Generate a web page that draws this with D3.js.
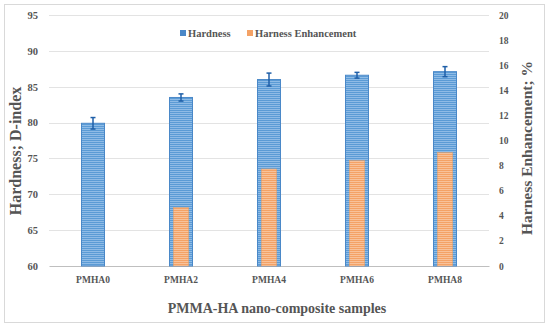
<!DOCTYPE html>
<html>
<head>
<meta charset="utf-8">
<script src="https://cdn.jsdelivr.net/npm/d3@7"></script>
<style>
  body { margin: 0; background: #fff; }
  text { font-family: "Liberation Serif", "Times New Roman", serif; font-weight: bold; fill: #555555; }
</style>
</head>
<body>
<div id="chart"></div>
<script>
// Data
const samples = ["PMHA0", "PMHA2", "PMHA4", "PMHA6", "PMHA8"];
const hardness = [79.9, 83.5, 86.0, 86.6, 87.1];
const hardnessErr = [0.8, 0.5, 0.9, 0.4, 0.7];
const enhancement = [0, 4.65, 7.73, 8.39, 9.03];
const leftTicks = [60, 65, 70, 75, 80, 85, 90, 95];
const rightTicks = [0, 2, 4, 6, 8, 10, 12, 14, 16, 18, 20];

const W = 550, H = 329;
const margin = {top: 15, right: 61, bottom: 63, left: 49};
const width = W - margin.left - margin.right,
      height = H - margin.top - margin.bottom;

const svg = d3.select("#chart").append("svg")
    .attr("width", W)
    .attr("height", H);

// Chart frame
svg.append("rect")
    .attr("x", 4.5).attr("y", 4.5)
    .attr("width", 540).attr("height", 318)
    .attr("fill", "#fff")
    .attr("stroke", "#d9d9d9");

// Stripe patterns for the bars
const defs = svg.append("defs");
function stripes(id, base, line) {
  const p = defs.append("pattern")
      .attr("id", id)
      .attr("patternUnits", "userSpaceOnUse")
      .attr("width", 4).attr("height", 2);
  p.append("rect").attr("width", 4).attr("height", 2).attr("fill", base);
  p.append("rect").attr("width", 4).attr("height", 1).attr("fill", line);
}
stripes("blueStripe", "#5b9bd5", "#8fbbe6");
stripes("orangeStripe", "#f4a266", "#f8c29a");

const g = svg.append("g")
    .attr("transform", "translate(" + margin.left + "," + margin.top + ")");

const x = d3.scaleBand().domain(samples).range([0, width]);
const yL = d3.scaleLinear().domain([60, 95]).range([height, 0]);
const yR = d3.scaleLinear().domain([0, 20]).range([height, 0]);

// Gridlines
g.selectAll(".grid")
  .data(leftTicks.slice(1))
  .enter().append("line")
    .attr("x1", 0).attr("x2", width)
    .attr("y1", d => Math.round(yL(d)) + 0.5)
    .attr("y2", d => Math.round(yL(d)) + 0.5)
    .attr("stroke", "#e3e3e3");

// Left axis
const yAxisL = d3.axisLeft(yL).tickValues(leftTicks).tickSize(0).tickPadding(11);
g.append("g")
    .call(yAxisL)
    .call(a => a.select(".domain").remove())
    .selectAll("text").style("font-size", "10.5px");

// Right axis
const yAxisR = d3.axisRight(yR).tickValues(rightTicks).tickSize(0).tickPadding(10);
g.append("g")
    .attr("transform", "translate(" + width + ",0)")
    .call(yAxisR)
    .call(a => a.select(".domain").remove())
    .selectAll("text").style("font-size", "9.5px");

// Bottom axis
const xAxis = d3.axisBottom(x).tickSize(0).tickPadding(10);
g.append("g")
    .attr("transform", "translate(0," + height + ")")
    .call(xAxis)
    .call(a => a.select(".domain").attr("stroke", "#bfbfbf"))
    .selectAll("text").style("font-size", "9.5px");

// Hardness bars
const bw = 23;
g.selectAll(".hard")
  .data(samples)
  .enter().append("rect")
    .attr("x", (d) => x(d) + x.bandwidth() / 2 - bw / 2)
    .attr("y", (d, i) => yL(hardness[i]))
    .attr("width", bw)
    .attr("height", (d, i) => height - yL(hardness[i]))
    .attr("fill", "url(#blueStripe)")
    .attr("stroke", "#4a88c8")
    .attr("stroke-width", 1);

// Enhancement bars
const ow = 15;
g.selectAll(".enh")
  .data(samples)
  .enter().append("rect")
    .attr("x", (d) => x(d) + x.bandwidth() / 2 - ow / 2)
    .attr("y", (d, i) => yR(enhancement[i]))
    .attr("width", ow)
    .attr("height", (d, i) => height - yR(enhancement[i]))
    .attr("fill", "url(#orangeStripe)")
    .attr("stroke", "#f0a060")
    .attr("stroke-width", 0.5);

// Error bars
const eb = g.selectAll(".err")
  .data(samples)
  .enter().append("g")
    .attr("stroke", "#1f5fa8")
    .attr("stroke-width", 1.5);
eb.append("line")
    .attr("x1", d => x(d) + x.bandwidth() / 2)
    .attr("x2", d => x(d) + x.bandwidth() / 2)
    .attr("y1", (d, i) => yL(hardness[i] - hardnessErr[i]))
    .attr("y2", (d, i) => yL(hardness[i] + hardnessErr[i]));
[-1, 1].forEach(s => {
  eb.append("line")
      .attr("x1", d => x(d) + x.bandwidth() / 2 - 2.5)
      .attr("x2", d => x(d) + x.bandwidth() / 2 + 2.5)
      .attr("y1", (d, i) => yL(hardness[i] + s * hardnessErr[i]))
      .attr("y2", (d, i) => yL(hardness[i] + s * hardnessErr[i]));
});

// Legend
const legend = svg.append("g").attr("transform", "translate(180,33)");
legend.append("rect").attr("x", 0).attr("y", -3).attr("width", 6).attr("height", 6).attr("fill", "#4a88c8");
legend.append("text").attr("x", 8).attr("y", 3.5).style("font-size", "10.5px").text("Hardness");
legend.append("rect").attr("x", 67).attr("y", -3).attr("width", 6).attr("height", 6).attr("fill", "#f4a266");
legend.append("text").attr("x", 75).attr("y", 3.5).style("font-size", "10.5px").text("Harness Enhancement");

// Axis titles
svg.append("text")
    .attr("transform", "translate(21,151) rotate(-90)")
    .attr("text-anchor", "middle")
    .style("font-size", "16px")
    .text("Hardness; D-index");

svg.append("text")
    .attr("transform", "translate(532,148) rotate(-90)")
    .attr("text-anchor", "middle")
    .style("font-size", "15.5px")
    .text("Harness Enhancement; %");

svg.append("text")
    .attr("x", margin.left + width / 2 + 8)
    .attr("y", 313)
    .attr("text-anchor", "middle")
    .style("font-size", "14px")
    .text("PMMA-HA nano-composite samples");
</script>
</body>
</html>
